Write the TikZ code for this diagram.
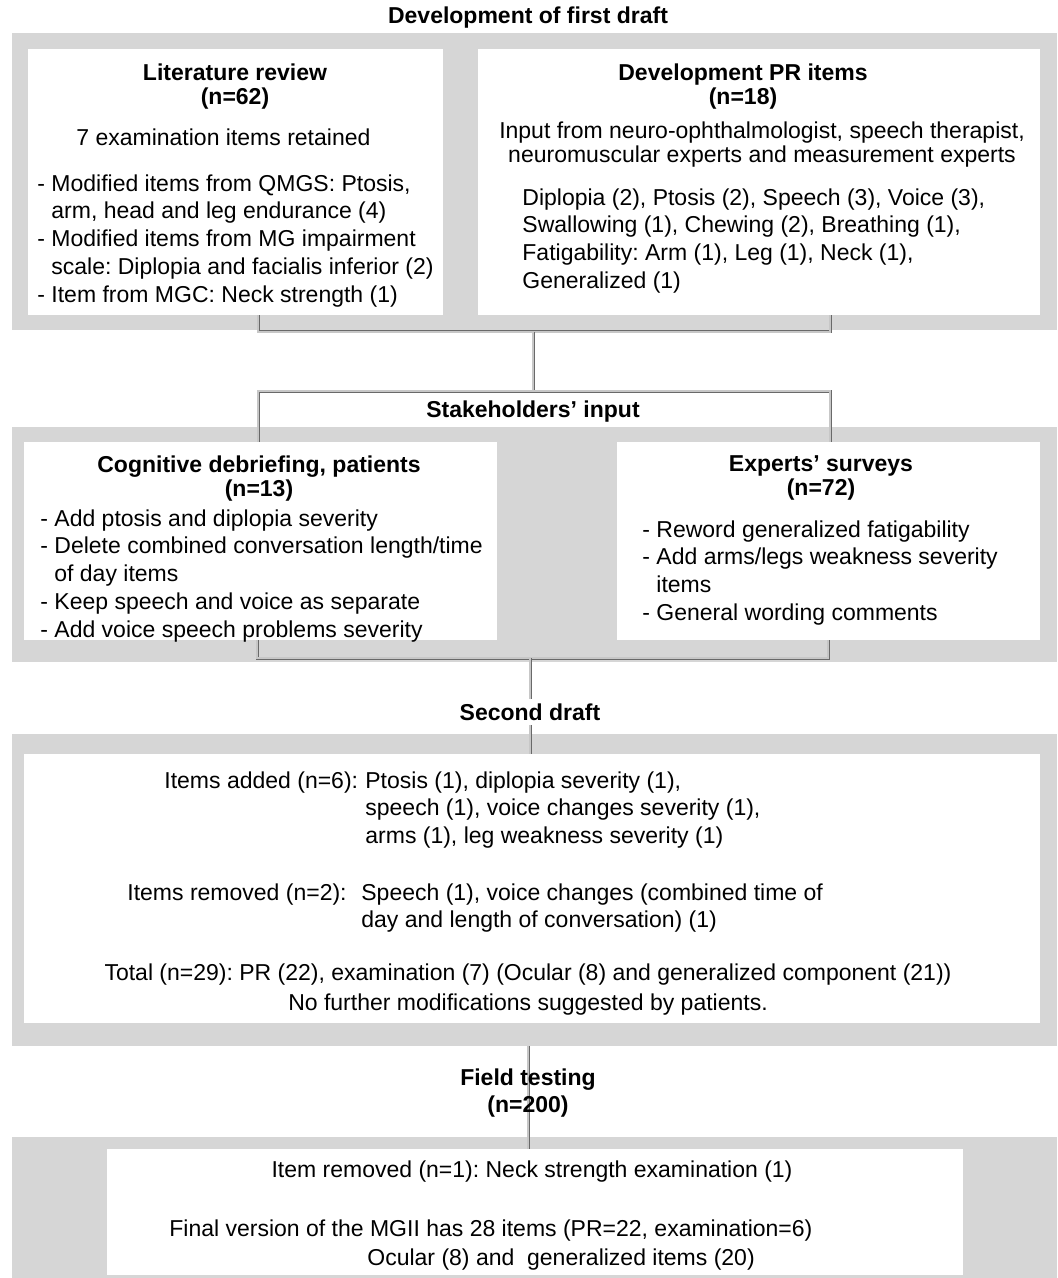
\documentclass[tikz,border=0pt]{standalone}
\usepackage{fontspec}
\setmainfont{Liberation Sans}
\usetikzlibrary{fit,positioning}
\definecolor{panelgray}{RGB}{214,214,214}
\definecolor{linkgray}{RGB}{105,105,105}
\newcommand{\bodyfont}{\fontsize{11.5}{13.9}\selectfont}
\newcommand{\indt}{\hspace*{7pt}}
\frenchspacing

\begin{document}
\begin{tikzpicture}[x=0.5pt, y=-0.5pt,
  panel/.style={fill=panelgray, inner sep=0pt},
  card/.style={fill=white, inner sep=0pt},
  stage/.style={font=\bodyfont\bfseries, align=center, inner sep=2pt},
  head/.style={font=\fontsize{11.5}{12.3}\selectfont\bfseries, align=center, anchor=north, inner sep=0pt},
  body/.style={font=\bodyfont, align=left, anchor=north west, inner sep=0pt},
  link/.style={draw=linkgray, double=black!22, double distance=0.6pt, line width=0.45pt}]
	\useasboundingbox (0,0) rectangle (1057,1278);
	% grey panels and white cards
	\node[panel, fit={(12,33) (1057,330)}] (firstpanel) {};
	\node[card, fit={(28,49) (443,315)}] (litbox) {};
	\node[card, fit={(478,49) (1040,315)}] (prbox) {};
	\node[panel, fit={(12,427) (1057,662)}] (stakepanel) {};
	\node[card, fit={(24,442) (497,640)}] (cogbox) {};
	\node[card, fit={(617,442) (1040,640)}] (expbox) {};
	\node[panel, fit={(12,734) (1057,1046)}] (draftpanel) {};
	\node[card, fit={(24,754) (1040,1023)}] (draftbox) {};
	\node[panel, fit={(12,1137) (1057,1278)}] (fieldpanel) {};
	\node[card, fit={(107,1149) (963,1275)}] (finalbox) {};
	% stage titles
	\node[stage] (firstdraft) at (528,18) {Development of first draft};
	\node[stage] (stake) at (533,412) {Stakeholders’ input};
	\node[stage] (second) at (530,712) {Second draft};
	% connectors
	\coordinate (litjoin) at (258,332);
	\coordinate (prjoin) at (830,332);
	\coordinate (topmid) at (533,332);
	\coordinate (stakemid) at (533,391);
	\coordinate (cogjoin) at (258,391);
	\coordinate (expjoin) at (830,391);
	\coordinate (cogdown) at (257,658);
	\coordinate (expdown) at (828,658);
	\coordinate (secmid) at (530,658);
	\coordinate (fieldx) at (528,1093);
	\draw[link] (litbox.south -| litjoin) -- (litjoin) -- (prjoin) -- (prbox.south -| prjoin);
	\draw[link] (topmid) -- (stakemid);
	\draw[link] (cogbox.north -| cogjoin) -- (cogjoin) -- (expjoin) -- (expbox.north -| expjoin);
	\draw[link] (cogbox.south -| cogdown) -- (cogdown) -- (expdown) -- (expbox.south -| expdown);
	\draw[link] (secmid) -- (second);
	\draw[link] (second) -- (draftbox.north -| second);
	\draw[link] (draftpanel.south -| fieldx) -- (finalbox.north -| fieldx);
	\node[stage] (field) at (fieldx) {Field testing\\(n=200)};
	% first draft
	\node[head] (lithead) at (235,63) {Literature review\\(n=62)};
	\node[body, anchor=west] (retained) at (76,137) {7 examination items retained};
	\node[body] (litlist) at (37,174) {- Modified items from QMGS: Ptosis,\\\indt arm, head and leg endurance (4)\\- Modified items from MG impairment\\\indt scale: Diplopia and facialis inferior (2)\\- Item from MGC: Neck strength (1)};
	\node[head] (prhead) at (743,63) {Development PR items\\(n=18)};
	\node[body, align=center, anchor=north, font=\fontsize{11.5}{12}\selectfont] (prinput) at (762,121) {Input from neuro-ophthalmologist, speech therapist,\\neuromuscular experts and measurement experts};
	\node[body] (prlist) at (522,188) {Diplopia (2), Ptosis (2), Speech (3), Voice (3),\\Swallowing (1), Chewing (2), Breathing (1),\\Fatigability: Arm (1), Leg (1), Neck (1),\\Generalized (1)};
	% stakeholders
	\node[head] (coghead) at (259,455) {Cognitive debriefing, patients\\(n=13)};
	\node[body] (coglist) at (40,509) {- Add ptosis and diplopia severity\\- Delete combined conversation length/time\\\indt of day items\\- Keep speech and voice as separate\\- Add voice speech problems severity};
	\node[head] (exphead) at (821,455) {Experts’ surveys\\(n=72)};
	\node[body] (explist) at (642,520) {- Reword generalized fatigability\\- Add arms/legs weakness severity\\\indt items\\- General wording comments};
	% second draft
	\node[body] (addlabel) at (164,771) {Items added (n=6):};
	\node[body] (addlist) at (365,771) {Ptosis (1), diplopia severity (1),\\speech (1), voice changes severity (1),\\arms (1), leg weakness severity (1)};
	\node[body] (remlabel) at (127,883) {Items removed (n=2):};
	\node[body] (remlist) at (361,883) {Speech (1), voice changes (combined time of\\day and length of conversation) (1)};
	\node[body, align=center, anchor=north, font=\fontsize{11.5}{15}\selectfont] (total) at (528,963) {Total (n=29): PR (22), examination (7) (Ocular (8) and generalized component (21))\\No further modifications suggested by patients.};
	% field testing
	\node[body, anchor=center] (neckrem) at (532,1172) {Item removed (n=1): Neck strength examination (1)};
	\node[body, font=\fontsize{11.5}{14.5}\selectfont] (finalver) at (169,1219) {Final version of the MGII has 28 items (PR=22, examination=6)\\\hspace*{99pt}Ocular (8) and\ \ generalized items (20)};
\end{tikzpicture}
\end{document}
